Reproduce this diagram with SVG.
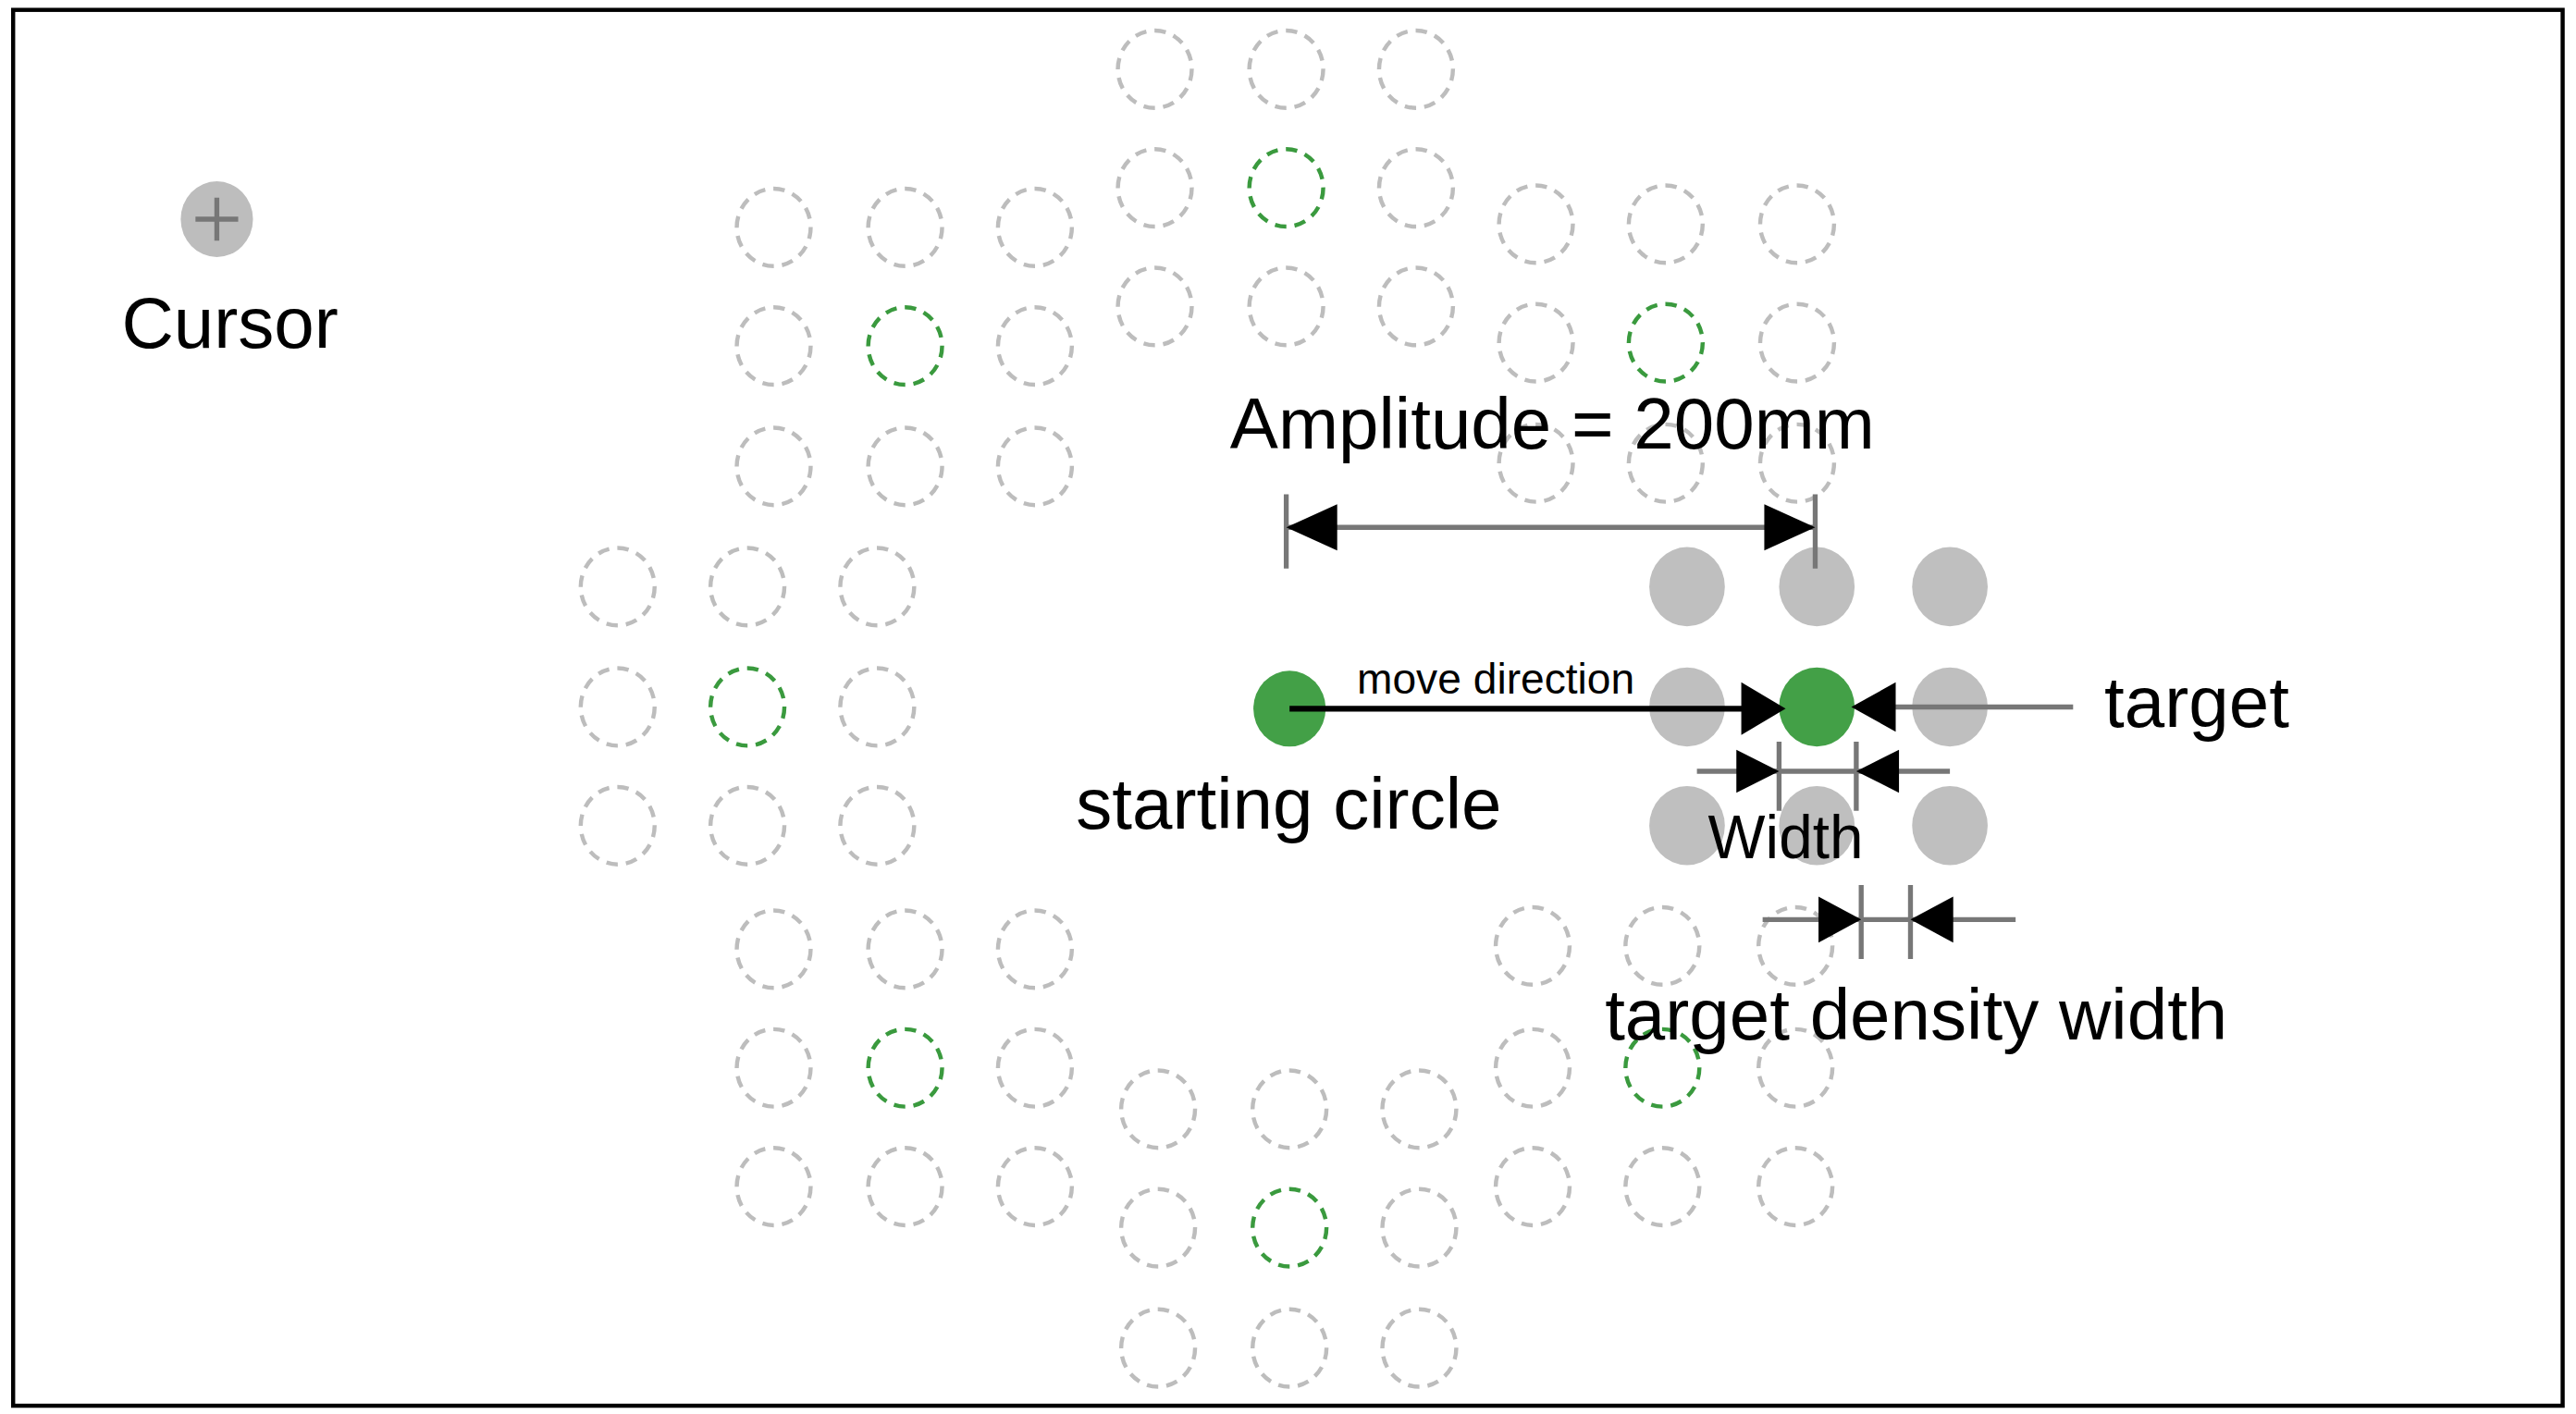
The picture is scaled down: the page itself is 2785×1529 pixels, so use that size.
<svg xmlns="http://www.w3.org/2000/svg" width="2785" height="1529" viewBox="0 0 2785 1529">
<style>
.d{fill:none;stroke:#bdbdbd;stroke-width:2.5;stroke-dasharray:7 5}
.dg{fill:none;stroke:#3a9a3e;stroke-width:2.5;stroke-dasharray:7 5}
.f{fill:#bfbfbf}
.g{fill:#43a047}
.t{font-family:"Liberation Sans",Arial,sans-serif;fill:#000}
.ln{stroke:#777;stroke-width:3;fill:none}
.ah{fill:#000}
</style>
<defs>
<ellipse id="c" class="d" rx="22.5" ry="23.5"/>
<ellipse id="cg" class="dg" rx="22.5" ry="23.5"/>
</defs>
<rect width="2785" height="1529" fill="#fff"/>
<g transform="scale(1.776,1.782)">
<rect x="8" y="6" width="1552" height="847" fill="none" stroke="#000" stroke-width="2.5"/>
<g id="cursor">
<ellipse cx="132" cy="133" rx="22" ry="23" fill="#bdbdbd"/>
<path d="M132 120V146M119 133H145" stroke="#777" stroke-width="3"/>
<text class="t" x="140" y="211" font-size="44" text-anchor="middle">Cursor</text>
</g>
<g id="cluster-top">
<use href="#c" x="703" y="42"/><use href="#c" x="783" y="42"/><use href="#c" x="862" y="42"/>
<use href="#c" x="703" y="114"/><use href="#cg" x="783" y="114"/><use href="#c" x="862" y="114"/>
<use href="#c" x="703" y="186"/><use href="#c" x="783" y="186"/><use href="#c" x="862" y="186"/>
</g>
<g id="cluster-top-left">
<use href="#c" x="471" y="138"/><use href="#c" x="551" y="138"/><use href="#c" x="630" y="138"/>
<use href="#c" x="471" y="210"/><use href="#cg" x="551" y="210"/><use href="#c" x="630" y="210"/>
<use href="#c" x="471" y="283"/><use href="#c" x="551" y="283"/><use href="#c" x="630" y="283"/>
</g>
<g id="cluster-top-right">
<use href="#c" x="935" y="136"/><use href="#c" x="1014" y="136"/><use href="#c" x="1094" y="136"/>
<use href="#c" x="935" y="208"/><use href="#cg" x="1014" y="208"/><use href="#c" x="1094" y="208"/>
<use href="#c" x="935" y="281"/><use href="#c" x="1014" y="281"/><use href="#c" x="1094" y="281"/>
</g>
<g id="cluster-left">
<use href="#c" x="376" y="356"/><use href="#c" x="455" y="356"/><use href="#c" x="534" y="356"/>
<use href="#c" x="376" y="429"/><use href="#cg" x="455" y="429"/><use href="#c" x="534" y="429"/>
<use href="#c" x="376" y="501"/><use href="#c" x="455" y="501"/><use href="#c" x="534" y="501"/>
</g>
<g id="cluster-bottom-left">
<use href="#c" x="471" y="576"/><use href="#c" x="551" y="576"/><use href="#c" x="630" y="576"/>
<use href="#c" x="471" y="648"/><use href="#cg" x="551" y="648"/><use href="#c" x="630" y="648"/>
<use href="#c" x="471" y="720"/><use href="#c" x="551" y="720"/><use href="#c" x="630" y="720"/>
</g>
<g id="cluster-bottom-right">
<use href="#c" x="933" y="574"/><use href="#c" x="1012" y="574"/><use href="#c" x="1093" y="574"/>
<use href="#c" x="933" y="648"/><use href="#cg" x="1012" y="648"/><use href="#c" x="1093" y="648"/>
<use href="#c" x="933" y="720"/><use href="#c" x="1012" y="720"/><use href="#c" x="1093" y="720"/>
</g>
<g id="cluster-bottom">
<use href="#c" x="705" y="673"/><use href="#c" x="785" y="673"/><use href="#c" x="864" y="673"/>
<use href="#c" x="705" y="745"/><use href="#cg" x="785" y="745"/><use href="#c" x="864" y="745"/>
<use href="#c" x="705" y="818"/><use href="#c" x="785" y="818"/><use href="#c" x="864" y="818"/>
</g>
<g id="cluster-target">
<ellipse class="f" cx="1027" cy="356" rx="23" ry="24"/><ellipse class="f" cx="1106" cy="356" rx="23" ry="24"/><ellipse class="f" cx="1187" cy="356" rx="23" ry="24"/>
<ellipse class="f" cx="1027" cy="429" rx="23" ry="24"/><ellipse class="f" cx="1187" cy="429" rx="23" ry="24"/>
<ellipse class="f" cx="1027" cy="501" rx="23" ry="24"/><ellipse class="f" cx="1106" cy="501" rx="23" ry="24"/><ellipse class="f" cx="1187" cy="501" rx="23" ry="24"/>
</g>
<g id="target">
<ellipse class="g" cx="1106" cy="429" rx="23" ry="24"/>
<text class="t" x="1281" y="441" font-size="44">target</text>
</g>
<g id="start">
<ellipse class="g" cx="785" cy="430" rx="22" ry="23"/>
<text class="t" x="655" y="503" font-size="44">starting circle</text>
</g>
<g id="connectors">
<path class="ln" d="M783 300V345M1105 300V345M783 320H1105"/>
<polygon class="ah" points="783,320 814,306 814,334"/>
<polygon class="ah" points="1105,320 1074,306 1074,334"/>
<path d="M785 430H1065" stroke="#000" stroke-width="3.5"/>
<polygon class="ah" points="1087,430 1060,414 1060,446"/>
<path class="ln" d="M1262 429H1150"/>
<polygon class="ah" points="1127,429 1154,414 1154,444"/>
<path class="ln" d="M1033 468H1187M1083 450V492M1130 450V492"/>
<polygon class="ah" points="1083,468 1057,455 1057,481"/>
<polygon class="ah" points="1130,468 1156,455 1156,481"/>
<path class="ln" d="M1073 558H1227M1133 537V582M1163 537V582"/>
<polygon class="ah" points="1133,558 1107,544 1107,572"/>
<polygon class="ah" points="1163,558 1189,544 1189,572"/>
</g>
<text class="t" x="945" y="272" font-size="44" text-anchor="middle">Amplitude = 200mm</text>
<text class="t" x="826" y="421" font-size="26">move direction</text>
<text class="t" x="1087" y="521" font-size="37" text-anchor="middle">Width</text>
<text class="t" x="977" y="631" font-size="44">target density width</text>
</g>
</svg>
